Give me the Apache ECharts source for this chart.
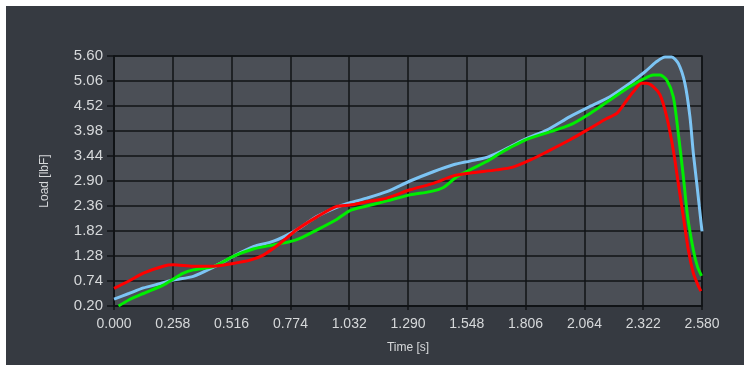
<!DOCTYPE html>
<html>
<head>
<meta charset="utf-8">
<script src="https://cdn.jsdelivr.net/npm/echarts@6/dist/echarts.min.js"></script>
<style>
  html, body { margin: 0; padding: 0; background: #fff; }
  #chart { position: absolute; left: 6px; top: 6px; width: 738px; height: 359px; }
</style>
</head>
<body>
<div id="chart"></div>
<script>
// [time s, load lbF]
const blueSeries = [
  [0, 0.35], [0.065, 0.47], [0.129, 0.59], [0.2, 0.68], [0.26, 0.76], [0.348, 0.84],
  [0.436, 1.04], [0.523, 1.27], [0.611, 1.48], [0.70, 1.60], [0.80, 1.84], [0.889, 2.13],
  [0.977, 2.33], [1.035, 2.43], [1.109, 2.53], [1.197, 2.67], [1.299, 2.90], [1.401, 3.10],
  [1.489, 3.25], [1.562, 3.33], [1.635, 3.41], [1.694, 3.53], [1.738, 3.64], [1.811, 3.82],
  [1.899, 4.00], [2.001, 4.29], [2.089, 4.51], [2.176, 4.72], [2.264, 5.01], [2.33, 5.26],
  [2.381, 5.48], [2.418, 5.58], [2.447, 5.58], [2.476, 5.44], [2.505, 5.01], [2.527, 4.29],
  [2.542, 3.5], [2.557, 2.85], [2.58, 1.81]
]
const greenSeries = [
  [0.02, 0.20], [0.065, 0.33], [0.129, 0.47], [0.216, 0.65], [0.26, 0.78], [0.30, 0.90],
  [0.348, 0.98], [0.436, 1.05], [0.523, 1.27], [0.611, 1.43], [0.70, 1.52], [0.772, 1.59],
  [0.816, 1.66], [0.889, 1.84], [0.977, 2.07], [1.035, 2.26], [1.109, 2.36], [1.197, 2.47],
  [1.299, 2.60], [1.387, 2.67], [1.445, 2.76], [1.504, 2.99], [1.562, 3.14], [1.635, 3.32],
  [1.694, 3.50], [1.738, 3.62], [1.811, 3.80], [1.899, 3.94], [2.001, 4.11], [2.089, 4.36],
  [2.176, 4.65], [2.264, 4.94], [2.322, 5.10], [2.366, 5.19], [2.396, 5.19], [2.425, 5.08],
  [2.454, 4.72], [2.476, 3.93], [2.498, 3.0], [2.517, 2.13], [2.542, 1.41], [2.56, 1.05],
  [2.578, 0.85]
]
const redSeries = [
  [0, 0.58], [0.065, 0.74], [0.129, 0.91], [0.216, 1.06], [0.26, 1.09], [0.348, 1.06],
  [0.436, 1.06], [0.523, 1.12], [0.597, 1.19], [0.655, 1.30], [0.728, 1.55], [0.80, 1.84],
  [0.889, 2.12], [0.977, 2.35], [1.035, 2.38], [1.109, 2.45], [1.197, 2.53], [1.299, 2.71],
  [1.401, 2.85], [1.489, 3.01], [1.562, 3.07], [1.679, 3.14], [1.75, 3.20], [1.825, 3.35],
  [1.899, 3.53], [2.001, 3.79], [2.089, 4.04], [2.162, 4.25], [2.206, 4.36], [2.235, 4.54],
  [2.279, 4.83], [2.315, 5.01], [2.337, 5.01], [2.366, 4.94], [2.396, 4.76], [2.425, 4.29],
  [2.454, 3.57], [2.476, 2.85], [2.498, 2.13], [2.52, 1.41], [2.542, 0.91], [2.559, 0.69],
  [2.575, 0.52]
]

const lineColors = ['#7cc4f4', '#00ee00', '#ff0000']
const labelColor = '#d6d8da'
const gridColor = '#111316'

let chart = echarts.init(document.getElementById('chart'))

function lineSeries(data, color) {
  return {
    type: 'line',
    data: data,
    showSymbol: false,
    smooth: 0.25,
    lineStyle: { color: color, width: 3 },
    z: 3,
  }
}

let option = {
  backgroundColor: '#363a41',
  textStyle: { fontFamily: 'Liberation Sans, Arial, sans-serif' },
  animation: false,
  grid: {
    left: 108,
    top: 50,
    right: 42,
    bottom: 59,
    show: true,
    backgroundColor: '#4b4f56',
    borderColor: gridColor,
    borderWidth: 1.5,
  },
  xAxis: {
    type: 'value',
    min: 0,
    max: 2.58,
    interval: 0.258,
    name: 'Time [s]',
    nameLocation: 'middle',
    nameGap: 36,
    nameTextStyle: { color: labelColor, fontSize: 12 },
    axisLine: { lineStyle: { color: gridColor, width: 1.5 } },
    axisTick: { show: true, length: 4, lineStyle: { color: gridColor, width: 1.5 } },
    axisLabel: {
      color: labelColor,
      fontSize: 14,
      margin: 11,
      formatter: (v) => v.toFixed(3),
    },
    splitLine: { lineStyle: { color: gridColor, width: 1.5 } },
  },
  yAxis: {
    type: 'value',
    min: 0.2,
    max: 5.6,
    interval: 0.54,
    name: 'Load [lbF]',
    nameLocation: 'middle',
    nameGap: 63,
    nameTextStyle: { color: labelColor, fontSize: 12 },
    axisLine: { show: true, lineStyle: { color: gridColor, width: 1.5 } },
    axisTick: { show: true, length: 7, lineStyle: { color: gridColor, width: 1.5 } },
    axisLabel: {
      color: labelColor,
      fontSize: 15,
      margin: 11,
      formatter: (v) => v.toFixed(2),
    },
    splitLine: { lineStyle: { color: gridColor, width: 1.5 } },
  },
  series: [
    lineSeries(blueSeries, lineColors[0]),
    lineSeries(greenSeries, lineColors[1]),
    lineSeries(redSeries, lineColors[2]),
  ],
}
chart.setOption(option)
</script>
</body>
</html>
